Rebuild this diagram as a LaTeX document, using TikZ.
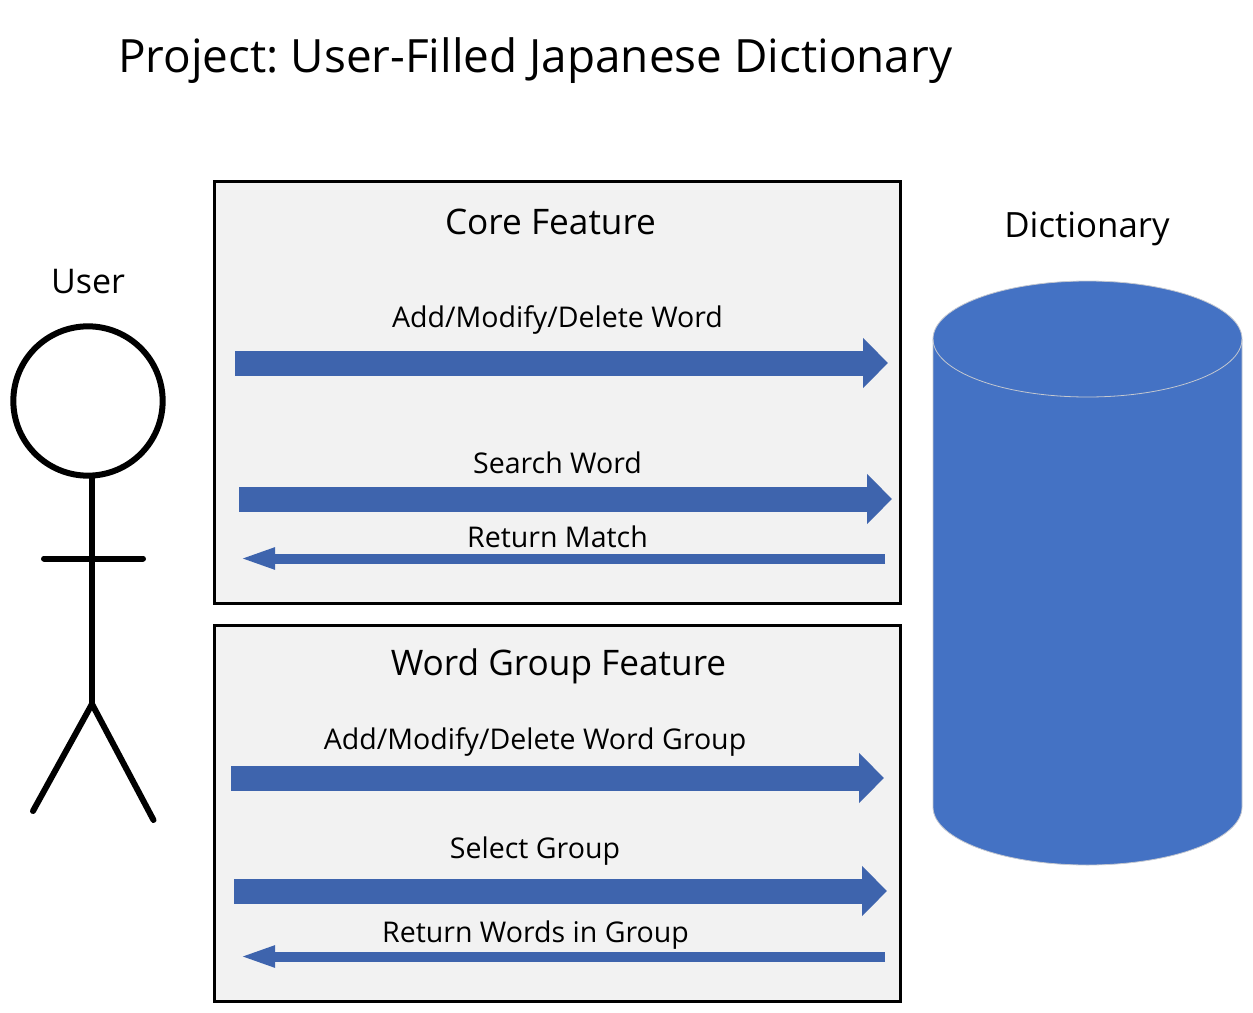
\documentclass[tikz,border=0pt]{standalone}
\usepackage{fontspec}
\setmainfont{Open Sans}
\frenchspacing
\usetikzlibrary{arrows.meta}
\definecolor{arrowblue}{HTML}{3E64AD}
\definecolor{cylblue}{HTML}{4472C4}
\definecolor{boxgray}{HTML}{F2F2F2}
\definecolor{cylline}{HTML}{C4C8D0}
\tikzset{
  x=0.75pt,y=-0.75pt,
  featurebox/.style={draw=black,line width=2.25pt,fill=boxgray},
  wide/.style={draw=arrowblue,line width=18.75pt,-{Triangle[length=18.75pt,width=36.5pt]}},
  slim/.style={draw=arrowblue,line width=7.5pt,-{Triangle[length=27pt,width=14.5pt]}},
  figure/.style={draw=black,line width=4.5pt,line cap=round},
  lab/.style={inner sep=0pt,anchor=base,font=\fontsize{21.4pt}{25pt}\selectfont},
  biglab/.style={inner sep=0pt,anchor=base,font=\fontsize{26.4pt}{30pt}\selectfont},
}
\begin{document}
\begin{tikzpicture}
\useasboundingbox (0,0) rectangle (1253,1013);
\node[inner sep=0pt,anchor=base west,font=\fontsize{34.4pt}{40pt}\selectfont] (title) at (118,73) {Project: User-Filled Japanese Dictionary};
% boxes
\draw[featurebox] (214.5,182) rectangle (900.5,603);
\draw[featurebox] (214.5,625) rectangle (900.5,1001);
\node[biglab] (core) at (550.5,234) {Core Feature};
\node[biglab] (group) at (558.5,675.5) {Word Group Feature};
% cylinder
\path[fill=cylblue,draw=cylline,line width=0.6pt] (933,339) -- (933,807) arc[start angle=180,end angle=360,x radius=154.5,y radius=-58] -- (1242,339) arc[start angle=0,end angle=180,x radius=154.5,y radius=-58] -- cycle;
\draw[cylline,line width=0.6pt] (933,339) arc[start angle=180,end angle=360,x radius=154.5,y radius=-58];
\node[inner sep=0pt,anchor=base,font=\fontsize{26.1pt}{30pt}\selectfont] (dict) at (1087,238) {Dictionary};
% user
\node[inner sep=0pt,anchor=base,font=\fontsize{25.5pt}{30pt}\selectfont] (userlab) at (88,293) {User};
\node[circle,draw=black,line width=4.5pt,minimum size=112pt,inner sep=0pt] (head) at (88,401) {};
\coordinate (neck) at (92,478);
\coordinate (hip) at (92,704);
\coordinate (handl) at (44,558.5);
\coordinate (handr) at (143,558.5);
\coordinate (footl) at (33,811);
\coordinate (footr) at (153.5,820);
\draw[figure] (neck) -- (hip);
\draw[figure] (handl) -- (handr);
\draw[figure] (footl) -- (hip) -- (footr);
% arrows
\coordinate (a1s) at (235,363); \coordinate (a1e) at (888,363);
\coordinate (a2s) at (239,499); \coordinate (a2e) at (892,499);
\coordinate (a3s) at (885,558.5); \coordinate (a3e) at (239,558.5);
\coordinate (a4s) at (231,778); \coordinate (a4e) at (884,778);
\coordinate (a5s) at (234,891); \coordinate (a5e) at (887,891);
\coordinate (a6s) at (885,956.5); \coordinate (a6e) at (239,956.5);
\draw[wide] (a1s) -- (a1e);
\draw[wide] (a2s) -- (a2e);
\draw[slim] (a3s) -- (a3e);
\draw[wide] (a4s) -- (a4e);
\draw[wide] (a5s) -- (a5e);
\draw[slim] (a6s) -- (a6e);
% labels
\node[lab] (l1) at (557.5,327) {Add/Modify/Delete Word};
\node[lab] (l2) at (557.5,473) {Search Word};
\node[lab] (l3) at (557.5,547) {Return Match};
\node[lab] (l4) at (535,749) {Add/Modify/Delete Word Group};
\node[lab] (l5) at (535,858) {Select Group};
\node[lab] (l6) at (535.5,942) {Return Words in Group};
\end{tikzpicture}
\end{document}
